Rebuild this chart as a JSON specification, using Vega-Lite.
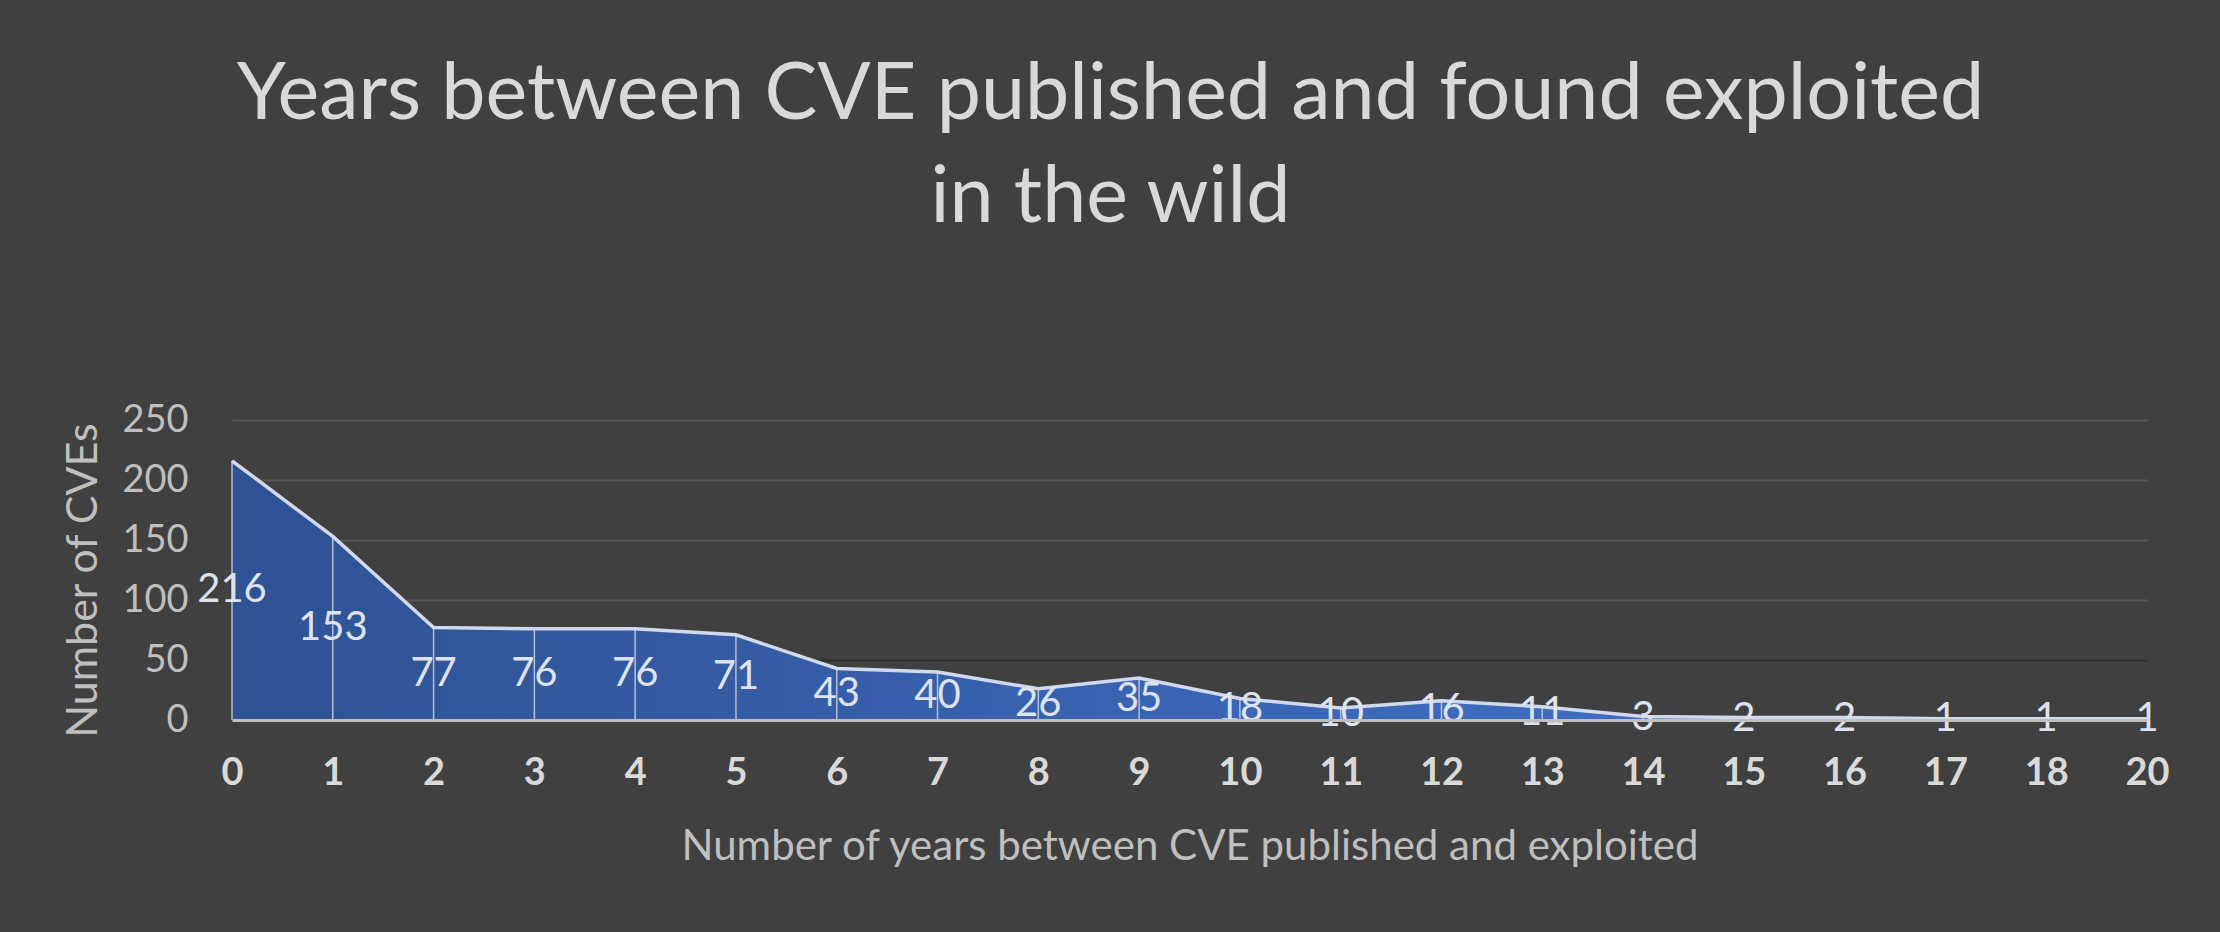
{
  "$schema": "https://vega.github.io/schema/vega-lite/v6.json",
  "width": 1915,
  "height": 300,
  "autosize": {"type": "none"},
  "padding": {"left": 232, "top": 420, "right": 73, "bottom": 212},
  "background": "#404040",
  "config": {"view": {"stroke": null}, "font": "Lato"},
  "title": {
    "text": ["Years between CVE published and found exploited", "in the wild"],
    "fontSize": 79,
    "font": "Lato",
    "fontWeight": "normal",
    "color": "#d9d9d9",
    "lineHeight": 103,
    "anchor": "middle",
    "dx": -79,
    "offset": 162
  },
  "data": {
    "values": [
      {"years": "0", "cves": 216},
      {"years": "1", "cves": 153},
      {"years": "2", "cves": 77},
      {"years": "3", "cves": 76},
      {"years": "4", "cves": 76},
      {"years": "5", "cves": 71},
      {"years": "6", "cves": 43},
      {"years": "7", "cves": 40},
      {"years": "8", "cves": 26},
      {"years": "9", "cves": 35},
      {"years": "10", "cves": 18},
      {"years": "11", "cves": 10},
      {"years": "12", "cves": 16},
      {"years": "13", "cves": 11},
      {"years": "14", "cves": 3},
      {"years": "15", "cves": 2},
      {"years": "16", "cves": 2},
      {"years": "17", "cves": 1},
      {"years": "18", "cves": 1},
      {"years": "20", "cves": 1}
    ]
  },
  "layer": [
    {
      "encoding": {
        "x": {
          "field": "years",
          "type": "ordinal",
          "sort": null,
          "scale": {"type": "point", "padding": 0},
          "axis": {
            "labelAngle": 0,
            "labelFontSize": 38,
            "labelFontWeight": "bold",
            "labelColor": "#d9d9d9",
            "labelPadding": 34,
            "ticks": false,
            "domainColor": "#bfbfbf",
            "domainWidth": 3,
            "title": "Number of years between CVE published and exploited",
            "titleFontSize": 42,
            "titleFontWeight": "normal",
            "titleColor": "#bfbfbf",
            "titlePadding": 34,
            "zindex": 1
          }
        },
        "y": {
          "field": "cves",
          "type": "quantitative",
          "scale": {"domain": [0, 250]},
          "axis": {
            "values": [0, 50, 100, 150, 200, 250],
            "grid": true,
            "gridColor": {"condition": {"test": "datum.value === 50", "value": "#2e2e2e"}, "value": "#565656"},
            "gridWidth": 2,
            "domain": false,
            "ticks": false,
            "labelPadding": 44,
            "labelFontSize": 38,
            "labelColor": "#bfbfbf",
            "title": "Number of CVEs",
            "titleFontSize": 43,
            "titleFontWeight": "normal",
            "titleColor": "#bfbfbf",
            "titlePadding": 16,
            "titleY": 160
          }
        }
      },
      "layer": [
        {
          "mark": {
            "type": "area",
            "fill": {
              "gradient": "linear",
              "x1": 0, "y1": 0, "x2": 1, "y2": 0,
              "stops": [
                {"offset": 0, "color": "#2e5294"},
                {"offset": 0.7, "color": "#3f6cc0"},
                {"offset": 1, "color": "#4673c8"}
              ]
            },
            "opacity": 1
          }
        },
        {
          "mark": {"type": "rule", "color": "#b4c0da", "strokeWidth": 1.5},
          "encoding": {"y2": {"datum": 0}}
        },
        {
          "mark": {"type": "line", "color": "#d0d9ee", "strokeWidth": 3.5}
        }
      ]
    },
    {
      "mark": {"type": "text", "fontSize": 40, "color": "#dde2ee", "align": "center", "baseline": "middle"},
      "encoding": {
        "x": {"field": "years", "type": "ordinal", "sort": null},
        "y": {"field": "cves", "type": "quantitative", "scale": {"domain": [0, 500]}, "axis": null},
        "text": {"field": "cves", "type": "quantitative"}
      }
    }
  ],
  "resolve": {"scale": {"y": "independent"}}
}
